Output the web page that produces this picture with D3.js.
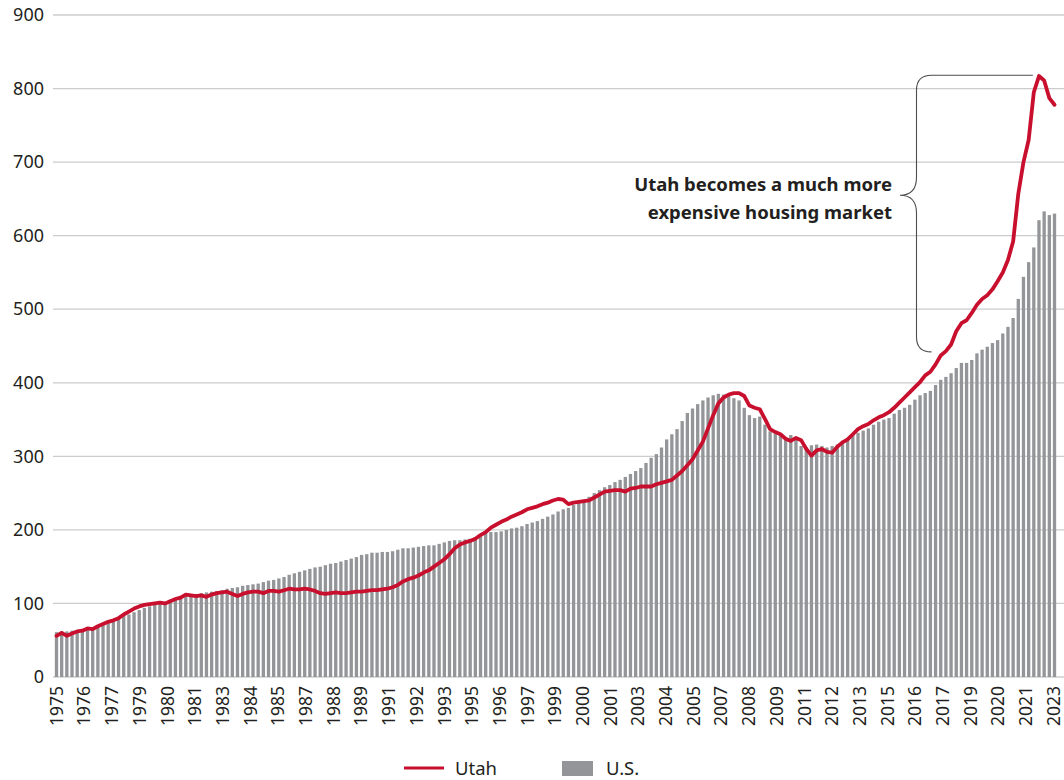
<!DOCTYPE html>
<html>
<head>
<meta charset="utf-8">
<script src="https://cdn.jsdelivr.net/npm/d3@7/dist/d3.min.js"></script>
<style>
  html, body { margin: 0; padding: 0; background: #ffffff; }
  svg { display: block; }
  text { font-family: "Noto Sans", "Open Sans", sans-serif; fill: #231f20; }
</style>
</head>
<body>
<svg id="chart" width="1064" height="780"></svg>
<script>
// Quarterly house price index, 1975 Q1 – 2023 Q2 (1980 = 100)
const startYear = 1975;
const quarterCount = 194;

const usValues = [
  61, 62, 62, 63,   64, 65, 66, 67,   69, 72, 75, 77,   80, 83, 85, 88,
  91, 94, 96, 98,   100, 102, 105, 107,   109, 111, 112, 113,   114, 115, 116, 117,
  118, 120, 121, 122,   124, 125, 126, 127,   129, 131, 132, 134,   136, 139, 141, 143,
  145, 147, 149, 150,   152, 154, 155, 157,   159, 161, 163, 166,   167, 169, 169, 170,
  170, 171, 173, 175,   175, 176, 177, 178,   179, 179, 181, 183,   185, 186, 186, 187,
  188, 190, 193, 196,   197, 197, 198, 200,   202, 203, 205, 208,   210, 212, 215, 218,
  221, 225, 228, 230,   234, 238, 241, 245,   250, 254, 258, 261,   265, 268, 272, 276,
  280, 284, 291, 298,   303, 312, 323, 330,   337, 348, 359, 365,   371, 376, 380, 383,
  385, 384, 382, 379,   376, 366, 356, 352,   354, 343, 334, 331,   328, 325, 329, 325,
  314, 312, 315, 316,   314, 312, 314, 316,   321, 325, 329, 332,   335, 338, 343, 347,
  350, 352, 358, 363,   366, 370, 377, 383,   386, 389, 397, 404,   408, 413, 420, 427,
  427, 431, 440, 445,   449, 454, 458, 467,   476, 488, 514, 544,   564, 584, 621, 633,
  628, 630
];

const utahValues = [
  56, 60, 56, 59,   62, 63, 66, 65,   69, 72, 75, 77,   80, 85, 89, 93,
  96, 98, 99, 100,   101, 100, 103, 106,   108, 112, 111, 110,   111, 109, 112, 114,
  115, 116, 113, 110,   113, 115, 116, 116,   114, 117, 117, 116,   118, 120, 119, 119,
  120, 119, 117, 114,   113, 114, 115, 114,   114, 115, 116, 116,   117, 118, 118, 119,
  120, 122, 125, 130,   133, 135, 138, 142,   145, 150, 155, 160,   167, 175, 180, 183,
  185, 188, 193, 197,   203, 207, 211, 214,   218, 221, 224, 228,   230, 232, 235, 237,
  240, 242, 241, 235,   237, 238, 239, 240,   244, 248, 252, 253,   254, 254, 252, 256,
  257, 259, 259, 259,   262, 264, 266, 268,   274, 280, 288, 296,   308, 320, 338, 356,
  372, 380, 384, 386,   386, 382, 369, 366,   364, 351, 337, 333,   330, 324, 321, 325,
  322, 310, 301, 308,   310, 306, 305, 313,   319, 323, 330, 337,   341, 344, 349, 353,
  356, 360, 366, 373,   380, 387, 394, 401,   410, 415, 425, 437,   443, 452, 470, 481,
  485, 495, 506, 514,   519, 527, 538, 550,   567, 592, 657, 700,   730, 795, 817, 811,
  787, 778
];

const xTickLabels = [
  "1975","1976","1977","1979","1980","1981","1983","1984","1985","1987","1988","1989",
  "1991","1992","1993","1995","1996","1997","1999","2000","2001","2003","2004","2005",
  "2007","2008","2009","2011","2012","2013","2015","2016","2017","2019","2020","2021","2023"
];

const yTicks = [0, 100, 200, 300, 400, 500, 600, 700, 800, 900];

const seriesNames = ["Utah", "U.S."];
const annotationLines = ["Utah becomes a much more", "expensive housing market"];

// ---------- layout ----------
const svg = d3.select("#chart");
const colUtah = "#c8102e";
const colUS = "#939598";

const quarters = d3.range(quarterCount);
const x = d3.scalePoint().domain(quarters).range([56.5, 1054.5]);
const barW = x.step() * 0.64;
const y = d3.scaleLinear().domain([0, 900]).range([677, 15]);
const xLab = d3.scalePoint().domain(xTickLabels).range([56.5, 1053.5]);

// gridlines
svg.append("g").selectAll("line").data(yTicks).join("line")
  .attr("x1", 53).attr("x2", 1064)
  .attr("y1", d => y(d)).attr("y2", d => y(d))
  .attr("stroke", "#cccccc").attr("stroke-width", 1.3);

// y-axis labels
const yAxis = svg.append("g").attr("transform", "translate(44,0)")
  .call(d3.axisLeft(y).tickValues(yTicks).tickSize(0).tickPadding(0));
yAxis.select(".domain").remove();
yAxis.selectAll("text").style("font-size", "18px").attr("fill", "#231f20")
  .style("font-family", '"Noto Sans", sans-serif');

// bars
svg.append("g").selectAll("rect").data(usValues).join("rect")
  .attr("x", (d, i) => x(i) - barW / 2)
  .attr("width", barW)
  .attr("y", d => y(d))
  .attr("height", d => y(0) - y(d))
  .attr("fill", colUS);

// Utah line
svg.append("path")
  .datum(utahValues)
  .attr("fill", "none")
  .attr("stroke", colUtah)
  .attr("stroke-width", 3.8)
  .attr("stroke-linejoin", "round")
  .attr("stroke-linecap", "round")
  .attr("d", d3.line().x((d, i) => x(i)).y(d => y(d)));

// x-axis labels (rotated)
const xAxis = svg.append("g").attr("transform", "translate(0,686)")
  .call(d3.axisBottom(xLab).tickSize(0).tickPadding(0));
xAxis.select(".domain").remove();
xAxis.selectAll("text")
  .style("font-size", "17.5px")
  .style("font-family", '"Noto Sans", sans-serif')
  .attr("fill", "#231f20")
  .attr("transform", "rotate(-90)")
  .attr("text-anchor", "end")
  .attr("x", 0).attr("y", 0).attr("dy", "0.33em");

// annotation brace
const peakIdx = utahValues.indexOf(d3.max(utahValues));
const xe = x(peakIdx - 1) - 1;
const yTop = y(818), yTip = y(655), yBot = y(442);
const xv = 916.5, xt = 900, r = 15;
const brace = d3.path();
brace.moveTo(xe, yTop);
brace.lineTo(xv + r, yTop);
brace.quadraticCurveTo(xv, yTop, xv, yTop + r);
brace.lineTo(xv, yTip - 18);
brace.quadraticCurveTo(xv, yTip, xt, yTip);
brace.quadraticCurveTo(xv, yTip, xv, yTip + 18);
brace.lineTo(xv, yBot - r);
brace.quadraticCurveTo(xv, yBot, xv + r, yBot);
svg.append("path").attr("d", brace.toString())
  .attr("fill", "none").attr("stroke", "#4d4d4f").attr("stroke-width", 1.1);

svg.append("g").selectAll("text").data(annotationLines).join("text")
  .attr("x", 892).attr("y", (d, i) => 191 + i * 27.5)
  .attr("text-anchor", "end")
  .style("font-size", "18.5px").style("font-weight", "bold")
  .text(d => d);

// legend
const lg = svg.append("g");
lg.append("line").attr("x1", 404).attr("x2", 444).attr("y1", 768).attr("y2", 768)
  .attr("stroke", colUtah).attr("stroke-width", 3);
lg.append("text").attr("x", 455).attr("y", 775).style("font-size", "18.5px").text(seriesNames[0]);
lg.append("rect").attr("x", 562).attr("y", 761).attr("width", 31).attr("height", 15).attr("fill", colUS);
lg.append("text").attr("x", 606).attr("y", 775).style("font-size", "18.5px").text(seriesNames[1]);
</script>
</body>
</html>
